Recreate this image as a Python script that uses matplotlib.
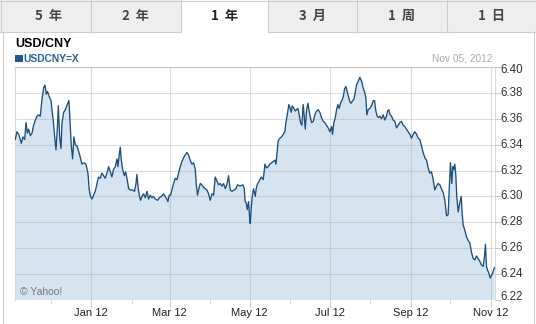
import datetime as dt
import numpy as np
import matplotlib
matplotlib.use('Agg')
import matplotlib.pyplot as plt
import matplotlib.dates as mdates
from matplotlib.patches import Rectangle
from matplotlib.lines import Line2D
from matplotlib.transforms import blended_transform_factory, offset_copy

# USD/CNY, one year to Nov 05, 2012 (days counted from 2011-11-04)
start = dt.datetime(2011, 11, 4)
days = [0.0, 1.3, 2.6, 3.8, 4.6, 5.9, 7.2, 8.2, 9.2, 10.2, 11.5, 12.8, 14.0, 15.3, 16.6,
        17.8, 19.1, 20.4, 21.7, 22.7, 23.7, 24.7, 26.0, 27.3, 28.0, 29.0, 30.1, 31.1, 32.1,
        32.9, 33.9, 34.9, 35.7, 37.0, 38.2, 39.7, 41.0, 41.8, 42.8, 43.8, 44.8, 45.8, 47.1,
        48.4, 49.7, 50.9, 52.2, 54.0, 55.5, 56.5, 57.5, 58.6, 59.8, 61.1, 62.4, 63.6, 64.9,
        66.2, 67.5, 68.7, 70.0, 71.3, 72.6, 73.8, 75.1, 76.4, 77.7, 78.4, 79.4, 80.2, 81.0,
        82.0, 83.3, 84.3, 85.3, 86.6, 87.8, 89.6, 91.1, 92.2, 92.9, 93.7, 94.7, 95.7, 96.7,
        98.0, 99.3, 100.6, 101.8, 103.1, 104.4, 105.6, 106.9, 108.7, 110.0, 111.5, 113.3,
        114.6, 115.8, 116.6, 117.6, 118.6, 119.6, 120.9, 122.2, 123.5, 124.7, 126.0, 127.3,
        128.6, 129.8, 131.1, 132.4, 133.6, 134.9, 136.2, 137.5, 138.2, 139.2, 140.0, 141.3,
        142.5, 143.8, 145.1, 146.4, 147.6, 148.9, 150.2, 151.5, 152.7, 154.0, 155.3, 156.5,
        157.8, 159.1, 160.4, 161.6, 162.9, 164.2, 165.5, 167.2, 168.5, 169.8, 171.8, 173.9,
        174.9, 175.6, 176.4, 177.2, 178.2, 179.0, 179.5, 180.2, 181.0, 182.0, 183.3, 184.0,
        184.8, 186.3, 187.9, 189.4, 190.7, 191.9, 193.2, 194.5, 195.7, 197.0, 198.3, 199.1,
        200.1, 200.8, 202.1, 203.4, 204.7, 205.9, 206.7, 207.7, 209.0, 210.0, 210.8, 211.5,
        212.8, 213.8, 214.8, 215.9, 216.9, 217.9, 218.9, 219.9, 220.7, 221.5, 222.5, 223.5,
        224.2, 225.0, 226.3, 227.6, 228.8, 230.1, 231.4, 232.6, 233.9, 235.2, 236.5, 237.7,
        239.0, 240.3, 241.6, 242.3, 243.3, 244.4, 245.4, 246.4, 247.4, 248.4, 249.4, 250.5,
        251.5, 252.5, 253.5, 254.5, 255.6, 256.6, 257.6, 258.6, 259.6, 260.6, 261.9, 263.2,
        264.5, 265.7, 267.0, 267.8, 268.5, 269.5, 270.8, 272.1, 273.4, 274.4, 275.4, 276.4,
        277.4, 278.5, 279.7, 281.0, 282.3, 283.5, 284.3, 285.3, 286.3, 287.4, 288.6, 289.9,
        291.2, 292.5, 293.7, 295.0, 296.3, 297.5, 298.8, 300.1, 301.4, 302.6, 303.9, 305.2,
        306.5, 307.7, 309.0, 310.3, 311.5, 312.8, 314.1, 315.4, 316.6, 317.9, 319.2, 320.4,
        321.7, 323.0, 324.3, 325.5, 326.8, 328.1, 329.4, 330.6, 331.4, 331.9, 332.4, 333.4,
        334.2, 335.0, 335.7, 336.5, 337.2, 338.3, 339.5, 340.6, 341.3, 342.1, 343.3, 344.6,
        345.9, 347.2, 348.4, 349.7, 351.0, 352.3, 353.5, 354.8, 356.1, 357.4, 358.4, 359.1,
        359.9, 360.7, 361.7, 362.7, 363.7, 365.0, 366.0]
rate = [6.344, 6.350, 6.348, 6.344, 6.341, 6.346, 6.344, 6.357, 6.349, 6.352, 6.347, 6.349,
        6.355, 6.359, 6.362, 6.363, 6.362, 6.375, 6.384, 6.386, 6.379, 6.381, 6.377, 6.374,
        6.367, 6.359, 6.346, 6.336, 6.352, 6.370, 6.346, 6.337, 6.357, 6.365, 6.367, 6.371,
        6.374, 6.358, 6.339, 6.329, 6.346, 6.340, 6.339, 6.335, 6.330, 6.325, 6.326, 6.325,
        6.318, 6.305, 6.300, 6.298, 6.301, 6.304, 6.310, 6.315, 6.314, 6.318, 6.316, 6.314,
        6.318, 6.323, 6.319, 6.315, 6.321, 6.323, 6.329, 6.323, 6.332, 6.338, 6.328, 6.321,
        6.316, 6.319, 6.314, 6.306, 6.305, 6.305, 6.304, 6.310, 6.317, 6.308, 6.301, 6.297,
        6.300, 6.302, 6.299, 6.304, 6.298, 6.301, 6.299, 6.300, 6.298, 6.297, 6.299, 6.300,
        6.302, 6.300, 6.298, 6.296, 6.301, 6.301, 6.305, 6.310, 6.314, 6.313, 6.318, 6.323,
        6.327, 6.330, 6.332, 6.334, 6.332, 6.328, 6.325, 6.326, 6.321, 6.310, 6.301, 6.305,
        6.310, 6.309, 6.307, 6.306, 6.305, 6.302, 6.297, 6.302, 6.301, 6.315, 6.312, 6.309,
        6.310, 6.308, 6.310, 6.306, 6.309, 6.316, 6.305, 6.304, 6.305, 6.306, 6.309, 6.308,
        6.309, 6.306, 6.296, 6.295, 6.290, 6.296, 6.283, 6.279, 6.291, 6.300, 6.306, 6.300,
        6.306, 6.309, 6.312, 6.315, 6.313, 6.325, 6.322, 6.323, 6.325, 6.326, 6.327, 6.328,
        6.325, 6.336, 6.343, 6.345, 6.346, 6.348, 6.350, 6.357, 6.363, 6.371, 6.368, 6.365,
        6.370, 6.368, 6.366, 6.367, 6.368, 6.363, 6.357, 6.355, 6.371, 6.362, 6.352, 6.367,
        6.372, 6.368, 6.363, 6.357, 6.358, 6.363, 6.366, 6.367, 6.365, 6.361, 6.358, 6.357,
        6.355, 6.353, 6.350, 6.354, 6.348, 6.357, 6.361, 6.367, 6.371, 6.368, 6.372, 6.374,
        6.377, 6.383, 6.385, 6.381, 6.377, 6.373, 6.372, 6.374, 6.375, 6.380, 6.386, 6.389,
        6.392, 6.389, 6.384, 6.380, 6.376, 6.363, 6.367, 6.368, 6.370, 6.374, 6.374, 6.366,
        6.362, 6.361, 6.362, 6.360, 6.363, 6.359, 6.362, 6.366, 6.367, 6.363, 6.362, 6.359,
        6.358, 6.353, 6.355, 6.357, 6.358, 6.355, 6.354, 6.352, 6.350, 6.348, 6.345, 6.348,
        6.350, 6.348, 6.345, 6.344, 6.339, 6.334, 6.330, 6.328, 6.322, 6.318, 6.319, 6.313,
        6.305, 6.308, 6.310, 6.309, 6.306, 6.303, 6.297, 6.285, 6.286, 6.305, 6.316, 6.326,
        6.310, 6.323, 6.321, 6.325, 6.316, 6.300, 6.288, 6.295, 6.300, 6.287, 6.278, 6.274,
        6.269, 6.266, 6.264, 6.257, 6.252, 6.251, 6.254, 6.252, 6.250, 6.247, 6.246, 6.254,
        6.263, 6.246, 6.243, 6.241, 6.237, 6.239, 6.242, 6.245]

yticks = [6.22, 6.24, 6.26, 6.28, 6.30, 6.32, 6.34, 6.36, 6.38, 6.40]
tabs = ['5 年', '2 年', '1 年', '3 月', '1 周', '1 日']
selected_tab = '1 年'
symbol = 'USD/CNY'
ticker = 'USDCNY=X'
as_of = 'Nov 05, 2012'

plt.rcParams['font.family'] = ['Liberation Sans', 'DejaVu Sans']

W, H = 536, 324
fig = plt.figure(figsize=(W / 100, H / 100), dpi=100)


def fx(px):
    return px / W


def fy(py):
    return 1 - py / H


border = '#cccccc'

# tab bar
tab_edges = [0, 91, 181, 268, 357, 447, 536]
tab_h = 32
for i, lab in enumerate(tabs):
    x0, x1 = tab_edges[i], tab_edges[i + 1]
    sel = lab == selected_tab
    fig.patches.append(Rectangle((fx(x0), fy(tab_h)), fx(x1 - x0), tab_h / H,
                                 transform=fig.transFigure,
                                 facecolor='white' if sel else '#eeeeee', edgecolor='none'))
    if not sel:
        fig.lines.append(Line2D([fx(x0), fx(x1)], [fy(tab_h - 0.5)] * 2,
                                transform=fig.transFigure, color=border, lw=0.8))
    cx = (x0 + x1) / 2 + (3 if i == 0 else 0)
    fig.text(fx(cx), fy(16), lab.replace(' ', '  '), ha='center', va='center',
             fontsize=9.5, fontweight='bold',
             color='#222222' if sel else '#444444',
             family=['Noto Sans CJK SC', 'DejaVu Sans'])
for e in tab_edges:
    e = min(max(e, 0.5), W - 0.5)
    fig.lines.append(Line2D([fx(e)] * 2, [fy(0), fy(tab_h)], transform=fig.transFigure,
                            color=border, lw=0.8))
fig.lines.append(Line2D([0, 1], [fy(0.5)] * 2, transform=fig.transFigure, color=border, lw=0.8))
# outer frame of the chart panel
for xe in (2.7, 534.3):
    fig.lines.append(Line2D([fx(xe)] * 2, [fy(tab_h), 0], transform=fig.transFigure,
                            color=border, lw=0.8))

# header
fig.text(fx(15), fy(44), symbol, fontsize=9, fontweight='bold', color='black',
         ha='left', va='center')
fig.patches.append(Rectangle((fx(15), fy(62)), fx(7.5), 7 / H, transform=fig.transFigure,
                             facecolor='#245a8d', edgecolor='none'))
fig.text(fx(23.5), fy(58.5), ticker, fontsize=7.4, fontweight='bold', color='#2b5f91',
         ha='left', va='center')
fig.text(fx(492), fy(58.3), as_of, fontsize=7.3, color='#aaaaaa', ha='right', va='center')

# chart
ax = fig.add_axes([fx(15), 24 / H, 480 / W, 233 / H])
base = mdates.date2num(start)
x = base + np.array(days)
ax.fill_between(x, rate, 6.0, color='#d5e4f0', lw=0, zorder=1)
ax.plot(x, rate, color='#1d4e7c', lw=0.95, zorder=3)
ax.set_xlim(base - 0.2, base + 366.4)
ax.set_ylim(yticks[0], yticks[-1])
ax.set_axisbelow(False)

ax.xaxis.set_major_locator(mdates.MonthLocator(bymonth=[1, 3, 5, 7, 9, 11]))
ax.xaxis.set_minor_locator(mdates.MonthLocator(bymonth=[2, 4, 6, 8, 10, 12]))
ax.xaxis.set_major_formatter(mdates.DateFormatter('%b %y'))
ax.tick_params(axis='x', which='major', length=5, color='#cccccc', labelsize=8,
               labelcolor='#222222', pad=0.5)
ax.tick_params(axis='x', which='minor', length=3, color='#cccccc')

ax.yaxis.tick_right()
ax.set_yticks(yticks)
ax.tick_params(axis='y', length=4, color='#cccccc', labelright=False)
ax.grid(True, which='major', color='#a8a8a8', alpha=0.38, lw=0.8)

for side in ('top', 'left', 'right'):
    ax.spines[side].set_color('#d8d8d8')
    ax.spines[side].set_linewidth(0.8)
ax.spines['bottom'].set_visible(False)

trans = blended_transform_factory(ax.transAxes, ax.transData)
for v in yticks:
    dy = -3 if v == yticks[-1] else (3 if v == yticks[0] else 0)
    ax.text(1.011, v, f'{v:.2f}', transform=offset_copy(trans, fig=fig, y=dy, units='dots'),
            ha='left', va='center', fontsize=8.3, color='#333333', clip_on=False)

fig.text(fx(20), fy(292), '© Yahoo!', fontsize=7.5, color='#777777', ha='left', va='center')

fig.savefig('out.png', dpi=100)
